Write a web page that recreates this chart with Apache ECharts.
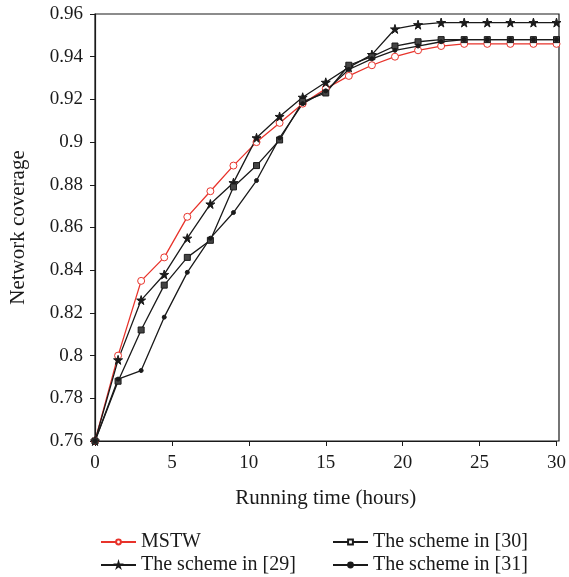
<!DOCTYPE html>
<html>
<head>
<meta charset="utf-8">
<script src="https://cdn.jsdelivr.net/npm/echarts@6/dist/echarts.min.js"></script>
<style>html,body{margin:0;padding:0;background:#fff;}#c{width:569px;height:577px;}</style>
</head>
<body>
<div id="c"></div>
<script>
var times = [0,1.5,3,4.5,6,7.5,9,10.5,12,13.5,15,16.5,18,19.5,21,22.5,24,25.5,27,28.5,30];
var mstw   = [0.760,0.800,0.835,0.846,0.865,0.877,0.889,0.900,0.909,0.918,0.925,0.931,0.936,0.940,0.943,0.945,0.946,0.946,0.946,0.946,0.946];
var sch29  = [0.760,0.798,0.826,0.838,0.855,0.871,0.881,0.902,0.912,0.921,0.928,0.935,0.941,0.953,0.955,0.956,0.956,0.956,0.956,0.956,0.956];
var sch30  = [0.760,0.788,0.812,0.833,0.846,0.854,0.879,0.889,0.901,0.919,0.923,0.936,0.940,0.945,0.947,0.948,0.948,0.948,0.948,0.948,0.948];
var sch31  = [0.760,0.789,0.793,0.818,0.839,0.855,0.867,0.882,0.902,0.918,0.924,0.934,0.939,0.943,0.945,0.947,0.948,0.948,0.948,0.948,0.948];
var names = ['MSTW','The scheme in [29]','The scheme in [30]','The scheme in [31]'];

function pairs(v){ return times.map(function(t,i){return [t,v[i]];}); }
var FONT = '"Liberation Serif", "DejaVu Serif", serif';
var BLACK = '#1a1a1a', RED = '#e8332b';
var STAR = 'path://M50,0 L61,35 L98,35 L68,57 L79,91 L50,70 L21,91 L32,57 L2,35 L39,35 Z';

var chart = echarts.init(document.getElementById('c'), null, {renderer:'canvas'});
function ser(name, data, color, symbol, size, fill){
  return {
    name:name, type:'line', data:pairs(data), symbol:symbol, symbolSize:size,
    showAllSymbol:true,
    lineStyle:{color:color,width:1.3},
    itemStyle:{color:fill, borderColor:color, borderWidth:1},
    emphasis:{disabled:true}, animation:false
  };
}
var legendCommon = {orient:'vertical', itemWidth:35, itemHeight:6, itemGap:3, height:50,
  textStyle:{fontFamily:FONT,fontSize:20,lineHeight:20,color:BLACK}};
chart.setOption({
  animation:false,
  grid:{left:95,right:10,top:14,bottom:136},
  xAxis:{
    type:'value', min:0, max:30, interval:5,
    name:'Running time (hours)', nameLocation:'middle', nameGap:47,
    nameTextStyle:{fontFamily:FONT,fontSize:21,color:BLACK},
    axisLine:{show:true,onZero:false,lineStyle:{color:BLACK,width:1.2}},
    axisTick:{show:true,inside:false,length:5,lineStyle:{color:BLACK}},
    axisLabel:{fontFamily:FONT,fontSize:19,color:BLACK,margin:13},
    splitLine:{show:false}
  },
  yAxis:{
    type:'value', min:0.76, max:0.96, interval:0.02,
    name:'Network coverage', nameLocation:'middle', nameGap:66,
    nameTextStyle:{fontFamily:FONT,fontSize:21,color:BLACK},
    axisLine:{show:true,lineStyle:{color:BLACK,width:1.2}},
    axisTick:{show:true,length:5,lineStyle:{color:BLACK}},
    axisLabel:{fontFamily:FONT,fontSize:19,color:BLACK,margin:12,
      formatter:function(v){ return (Math.round(v*100)/100).toString(); }},
    splitLine:{show:false}
  },
  graphic:[
    {type:'rect',shape:{x:95,y:14,width:464,height:427},style:{fill:'none',stroke:BLACK,lineWidth:1.2},silent:true,z:0}
  ],
  legend:[
    Object.assign({data:[names[0],names[1]], left:95, top:527}, legendCommon),
    Object.assign({data:[{name:names[2], itemStyle:{color:'#fff'}},names[3]], left:327, top:527}, legendCommon)
  ],
  series:[
    ser(names[0], mstw, RED, 'circle', 7, '#fff'),
    ser(names[1], sch29, BLACK, STAR, 9, BLACK),
    ser(names[2], sch30, BLACK, 'rect', 6, '#444'),
    ser(names[3], sch31, BLACK, 'circle', 4, BLACK)
  ]
});
</script>
</body>
</html>
